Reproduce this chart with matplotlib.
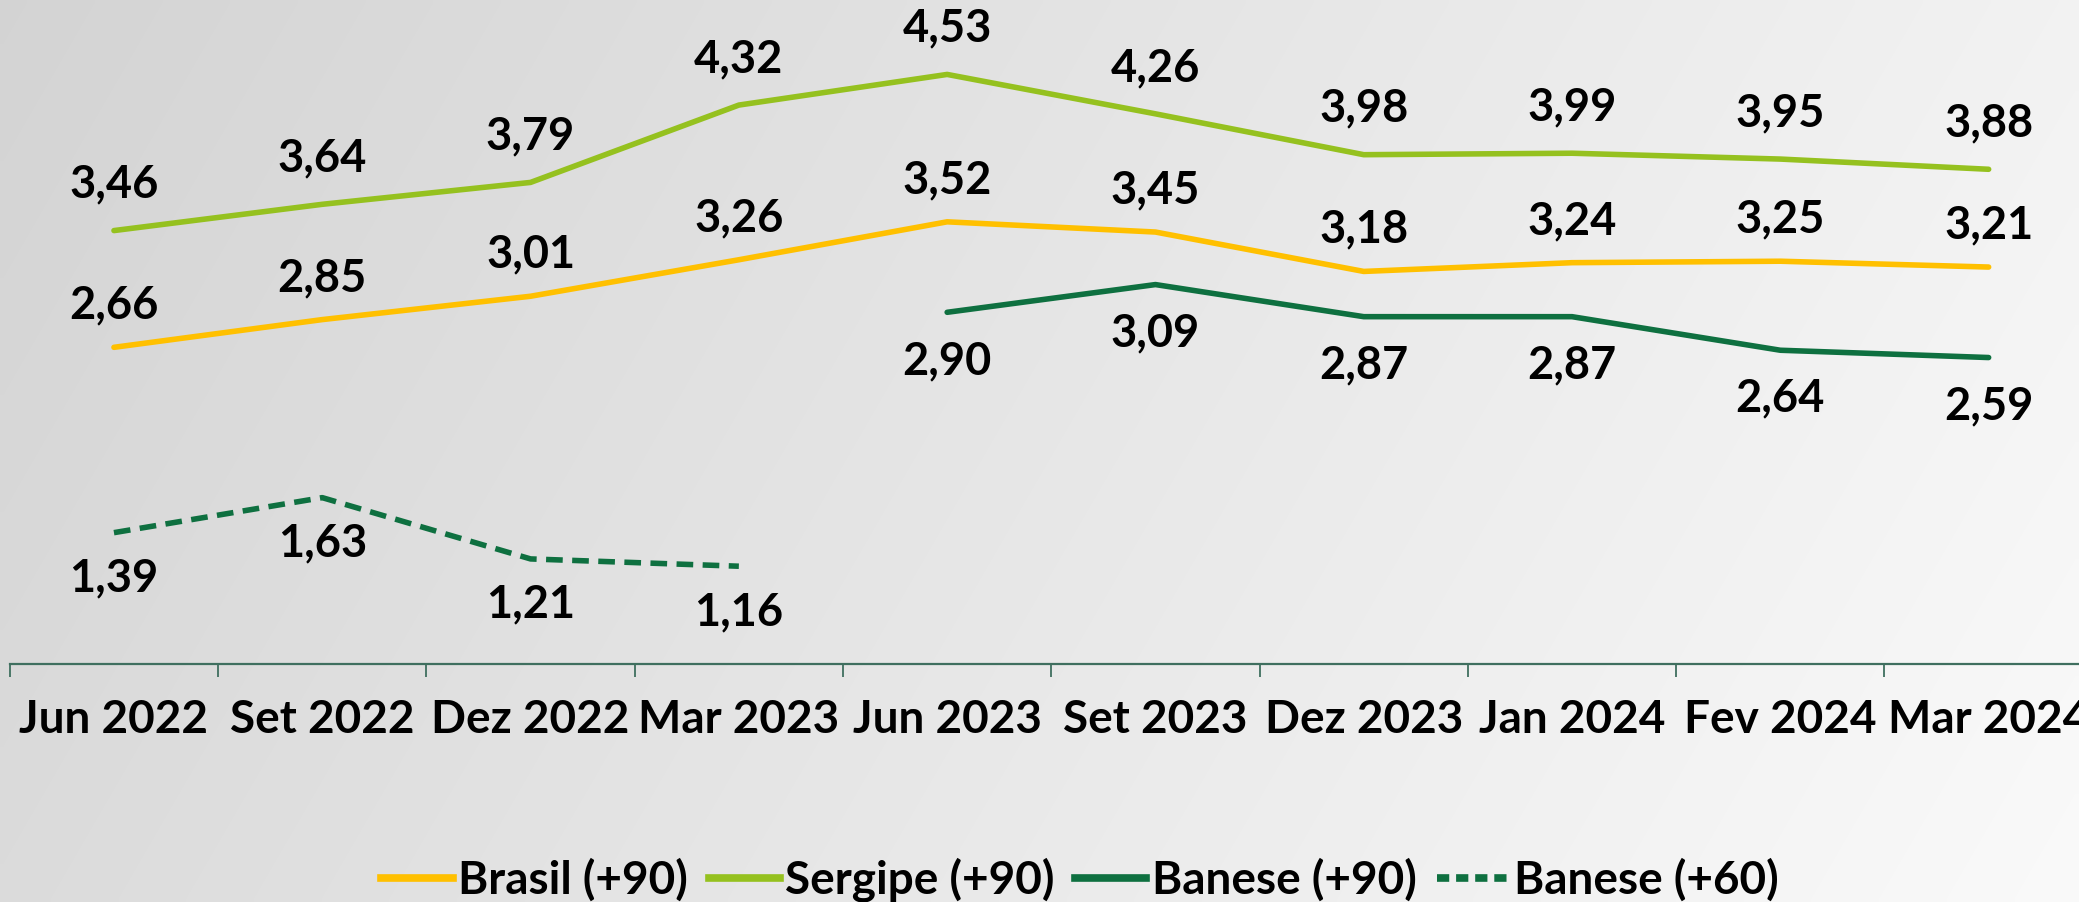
import matplotlib
matplotlib.use("Agg")
import matplotlib.pyplot as plt
import numpy as np
from matplotlib.lines import Line2D

plt.rcParams['font.family'] = ['Lato', 'DejaVu Sans']

categories = ["Jun 2022", "Set 2022", "Dez 2022", "Mar 2023", "Jun 2023",
              "Set 2023", "Dez 2023", "Jan 2024", "Fev 2024", "Mar 2024"]
brasil = [2.66, 2.85, 3.01, 3.26, 3.52, 3.45, 3.18, 3.24, 3.25, 3.21]
sergipe = [3.46, 3.64, 3.79, 4.32, 4.53, 4.26, 3.98, 3.99, 3.95, 3.88]
banese90 = [None, None, None, None, 2.90, 3.09, 2.87, 2.87, 2.64, 2.59]
banese60 = [1.39, 1.63, 1.21, 1.16, None, None, None, None, None, None]

C_BRASIL = "#FFC000"
C_SERGIPE = "#95C11F"
C_BANESE = "#0E7040"

W, H = 2079, 902
fig = plt.figure(figsize=(W / 100, H / 100), dpi=100)

# background gradient
bg = fig.add_axes([0, 0, 1, 1], zorder=-10)
xx, yy = np.meshgrid(np.linspace(0, 1, 300), np.linspace(0, 1, 150))
grad = 0.83 + 0.12 * xx + 0.03 * yy
bg.imshow(np.dstack([grad, grad, grad]), aspect='auto', extent=[0, 1, 0, 1],
          origin='upper', interpolation='bilinear')
bg.set_axis_off()

ax_left = 9.8 / W
ax_w = 2083.0 / W
ax_bottom = 1 - 664.0 / H
ax = fig.add_axes([ax_left, ax_bottom, ax_w, 1 - ax_bottom])
ax.patch.set_alpha(0)

x = np.arange(len(categories))

def arr(v):
    return np.array([np.nan if a is None else a for a in v], dtype=float)

lw = 4.0
ax.plot(x, arr(brasil), color=C_BRASIL, lw=lw, solid_capstyle='round')
ax.plot(x, arr(sergipe), color=C_SERGIPE, lw=lw, solid_capstyle='round')
ax.plot(x, arr(banese90), color=C_BANESE, lw=lw, solid_capstyle='round')
ax.plot(x, arr(banese60), color=C_BANESE, lw=lw, ls=(0, (3.0, 1.7)))

fs = 32.5

def labels(vals, dy):
    for xi, v in zip(x, vals):
        if v is None:
            continue
        ax.annotate(f"{v:.2f}".replace(".", ","), (xi, v), xytext=(0, dy),
                    textcoords='offset points', ha='center', va='center',
                    fontsize=fs, fontweight='bold', color='black')

labels(sergipe, 33)
labels(brasil, 30)
labels(banese90, -35)
labels(banese60, -33)

ax.set_xlim(-0.5, 9.5)
ax.set_ylim(0.49, 5.04)
for s in ['top', 'right', 'left']:
    ax.spines[s].set_visible(False)
ax.spines['bottom'].set_color('#3f6f5f')
ax.spines['bottom'].set_linewidth(1.6)
ax.set_yticks([])
ax.set_xticks(np.arange(-0.5, 10.0, 1.0))
ax.set_xticklabels([])
ax.tick_params(axis='x', which='major', length=9.5, width=1.3, color='#3f6f5f')
ax.set_xticks(x, minor=True)
ax.set_xticklabels(categories, minor=True, fontsize=33, fontweight='bold')
ax.tick_params(axis='x', which='minor', length=0, pad=25)

handles = [
    Line2D([], [], color=C_BRASIL, lw=5.5),
    Line2D([], [], color=C_SERGIPE, lw=5.5),
    Line2D([], [], color=C_BANESE, lw=5.5),
    Line2D([], [], color=C_BANESE, lw=5.5, ls=(0, (1.6, 0.9))),
]
names = ["Brasil (+90)", "Sergipe (+90)", "Banese (+90)", "Banese (+60)"]
leg = fig.legend(handles, names, loc='center', bbox_to_anchor=(1080 / W, 1 - 880 / H),
                 ncol=4, frameon=False, prop={'size': 33, 'weight': 'bold'},
                 handlelength=1.55, handletextpad=0.12, columnspacing=0.45,
                 borderpad=0)

fig.savefig("out.png", dpi=100)
